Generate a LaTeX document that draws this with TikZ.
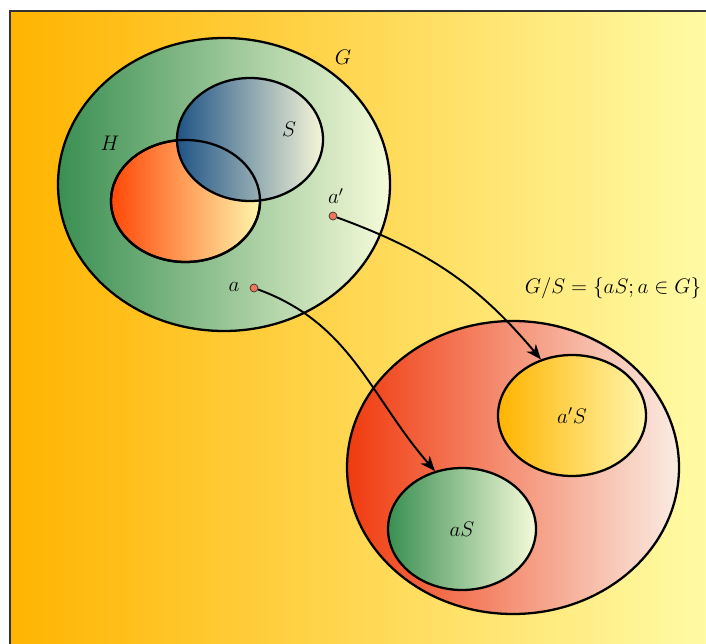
\documentclass[tikz,border=0pt]{standalone}
\usepackage{xcolor}
\usepackage{tikz}
\usepackage{amsmath, amssymb}
\usetikzlibrary{shapes.geometric, arrows.meta}

\begin{document}
\begin{tikzpicture}[
    conjunto/.style={ellipse, draw, line width=1.3pt, inner sep=0pt, font=\large},
    punto/.style={circle, draw=black!80, fill=puntoRojo, inner sep=0pt, minimum size=0.16cm, line width=0.4pt},
    etiqueta/.style={font=\large},
    flecha/.style={line width=1.1pt, -{Stealth[length=3mm, width=2.4mm, inset=0.9mm]}}
  ]
  \definecolor{naranjaFondo}{RGB}{255,180,0}
  \definecolor{amarilloFondo}{RGB}{255,251,165}
  \definecolor{verdeOscuro}{RGB}{58,143,82}
  \definecolor{verdeClaro}{RGB}{246,251,218}
  \definecolor{azulOscuro}{RGB}{32,84,134}
  \definecolor{cremaClaro}{RGB}{246,246,216}
  \definecolor{rojoNaranja}{RGB}{255,72,8}
  \definecolor{amarilloClaro}{RGB}{255,246,172}
  \definecolor{rojoFuerte}{RGB}{240,58,14}
  \definecolor{rosaClaro}{RGB}{250,236,226}
  \definecolor{puntoRojo}{RGB}{240,115,92}

  \useasboundingbox (0,0) rectangle (14.12,12.86);
  \clip (0,0) rectangle (14.12,12.86);

  % fondo
  \shade[left color=naranjaFondo, right color=amarilloFondo] (0.2,-1) rectangle (14.12,12.64);
  \draw[black!80, line width=0.8pt] (0.2,-1) -- (0.2,12.64) -- (15,12.64);

  % grupo G con H y S
  \node[conjunto, left color=verdeOscuro, right color=verdeClaro,
        minimum width=6.64cm, minimum height=5.86cm] (G) at (4.48,9.17) {};
  \node[conjunto, left color=rojoNaranja, right color=amarilloClaro,
        minimum width=2.98cm, minimum height=2.44cm] (H) at (3.71,8.84) {};
  \node[conjunto, left color=azulOscuro, right color=cremaClaro,
        minimum width=2.92cm, minimum height=2.46cm] (S) at (5.0,10.07) {};
  \node[conjunto, minimum width=2.98cm, minimum height=2.44cm] (Hborde) at (H) {};

  \node[etiqueta] (lG) at (6.86,11.72) {$G$};
  \node[etiqueta] (lH) at (2.2,10.0)   {$H$};
  \node[etiqueta] (lS) at (5.78,10.28) {$S$};

  \node[punto] (a)  at (5.08,7.10) {};
  \node[punto] (ap) at (6.66,8.54) {};
  \node[etiqueta] (la)  at (4.68,7.13) {$a$};
  \node[etiqueta] (lap) at (6.72,8.94) {$a'$};

  % grupo cociente G/S
  \node[conjunto, left color=rojoFuerte, right color=rosaClaro,
        minimum width=6.64cm, minimum height=5.86cm] (GS) at (10.26,3.51) {};
  \node[conjunto, left color=verdeOscuro, right color=verdeClaro,
        minimum width=2.96cm, minimum height=2.44cm] (aS) at (9.24,2.28) {$aS$};
  \node[conjunto, left color=naranjaFondo, right color=amarilloClaro,
        minimum width=2.96cm, minimum height=2.42cm] (apS) at (11.44,4.55) {$a'S$};
  \node[etiqueta] (lGS) at (12.26,7.10) {$G/S=\{aS;a\in G\}$};

  \draw[flecha] (a)  to[out=-20, in=131] (aS.115);
  \draw[flecha] (ap) to[out=-20, in=130] (apS.119);
\end{tikzpicture}
\end{document}
